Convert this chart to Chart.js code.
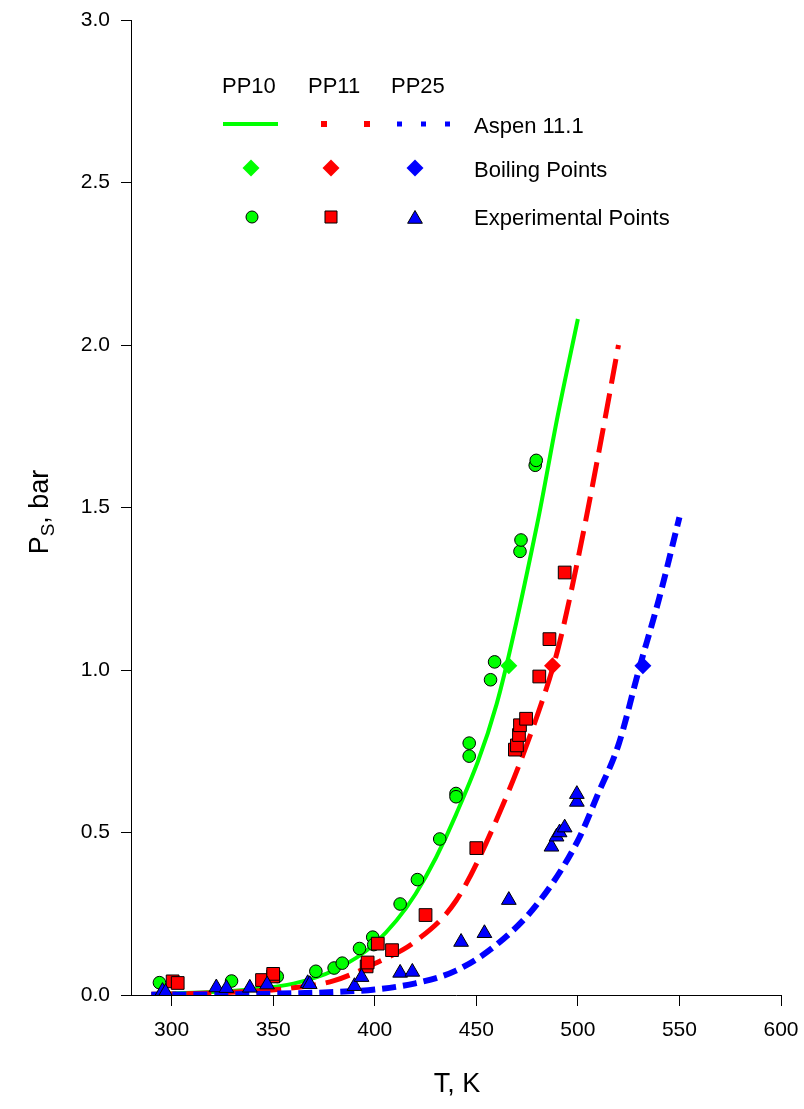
<!DOCTYPE html>
<html>
<head>
<meta charset="utf-8">
<title>Vapour pressure</title>
<script src="https://cdn.jsdelivr.net/npm/chart.js@4.4.1/dist/chart.umd.min.js"></script>
<style>
  html, body { margin: 0; padding: 0; background: #fff; }
</style>
</head>
<body>
<canvas id="ps-chart" width="804" height="1109"></canvas>
<script>
// Aspen 11.1 vapour pressure curves (T in K, P in bar)
var pp10T = [290, 300, 320, 340, 360, 380, 400, 420, 440, 460, 480, 490, 500];
var pp10P = [0.003, 0.005, 0.009, 0.018, 0.035, 0.076, 0.158, 0.31, 0.555, 0.895, 1.45, 1.78, 2.08];
var pp11T = [290, 300, 320, 340, 360, 380, 400, 420, 440, 460, 480, 490, 500, 510, 520];
var pp11P = [0.002, 0.003, 0.006, 0.012, 0.022, 0.044, 0.097, 0.165, 0.29, 0.54, 0.86, 1.06, 1.34, 1.66, 2.0];
var pp25T = [290, 320, 350, 380, 400, 420, 440, 460, 480, 500, 510, 520, 530, 540, 550];
var pp25P = [0.001, 0.002, 0.004, 0.009, 0.017, 0.036, 0.075, 0.155, 0.28, 0.475, 0.62, 0.77, 1.0, 1.22, 1.47];

// normal boiling points: PP10, PP11, PP25
var boilT = [466, 487.5, 532];
var boilP = [1.013, 1.013, 1.013];

// experimental points
var expPP10T = [294, 329.5, 352, 371, 380, 384, 392.5, 399, 399.5, 412.5, 421, 432, 440, 440, 446.5, 446.5, 457, 459, 471.5, 472, 479, 479.5];
var expPP10P = [0.038, 0.043, 0.057, 0.073, 0.083, 0.098, 0.143, 0.178, 0.155, 0.28, 0.355, 0.48, 0.62, 0.61, 0.775, 0.735, 0.97, 1.025, 1.365, 1.40, 1.63, 1.645];
var expPP11T = [300.5, 303, 344.5, 350, 350, 396, 396.5, 401.5, 408.5, 425, 450, 469, 470, 471, 471.5, 474.5, 481, 486, 493.5];
var expPP11P = [0.042, 0.037, 0.046, 0.057, 0.065, 0.088, 0.10, 0.158, 0.138, 0.246, 0.452, 0.755, 0.768, 0.80, 0.83, 0.85, 0.98, 1.095, 1.30];
var expPP25T = [295.5, 297, 322, 327, 338.5, 347, 367, 368, 390, 393.5, 412.5, 418.5, 442.5, 454, 466, 487, 489.5, 491, 493.5, 499.5, 499.5];
var expPP25P = [0.012, 0.008, 0.023, 0.021, 0.022, 0.032, 0.036, 0.033, 0.027, 0.055, 0.068, 0.071, 0.163, 0.19, 0.292, 0.456, 0.487, 0.50, 0.515, 0.594, 0.618];

var xTicks = [300, 350, 400, 450, 500, 550, 600];
var yTicks = [0, 0.5, 1.0, 1.5, 2.0, 2.5, 3.0];

var GREEN = '#00ff00', RED = '#ff0000', BLUE = '#0000ff';

function pts(xs, ys) {
    return xs.map(function(t, i) { return {x: t, y: ys[i]}; });
}

// legend + axis titles drawn by hand (SigmaPlot style)
var decorations = {
    id: 'decorations',
    afterDraw: function(chart) {
        var ctx = chart.ctx;
        var area = chart.chartArea;
        var draw = Chart.helpers.drawPoint;
        ctx.save();

        // x axis line runs a little past the y axis
        ctx.strokeStyle = '#000';
        ctx.lineWidth = 1;
        ctx.beginPath();
        ctx.moveTo(area.left - 8, Math.round(area.bottom) + 0.5);
        ctx.lineTo(area.left, Math.round(area.bottom) + 0.5);
        ctx.stroke();

        ctx.fillStyle = '#000';
        ctx.font = '22px Arial, "Liberation Sans", sans-serif';
        ctx.textBaseline = 'alphabetic';
        ctx.textAlign = 'left';
        ctx.fillText('PP10', 222, 93);
        ctx.fillText('PP11', 308, 93);
        ctx.fillText('PP25', 391, 93);
        ctx.fillText('Aspen 11.1', 474, 133);
        ctx.fillText('Boiling Points', 474, 177);
        ctx.fillText('Experimental Points', 474, 225);

        // line samples
        ctx.lineCap = 'butt';
        ctx.strokeStyle = GREEN;
        ctx.lineWidth = 4;
        ctx.beginPath(); ctx.moveTo(223, 124); ctx.lineTo(278, 124); ctx.stroke();
        ctx.strokeStyle = RED;
        ctx.lineWidth = 6;
        ctx.setLineDash([6, 37]);
        ctx.beginPath(); ctx.moveTo(321, 124); ctx.lineTo(371, 124); ctx.stroke();
        ctx.strokeStyle = BLUE;
        ctx.lineWidth = 5;
        ctx.setLineDash([5, 19]);
        ctx.beginPath(); ctx.moveTo(397, 124); ctx.lineTo(450, 124); ctx.stroke();
        ctx.setLineDash([]);

        // boiling point diamonds
        [[251, GREEN], [331, RED], [415, BLUE]].forEach(function(d) {
            ctx.fillStyle = d[1];
            ctx.strokeStyle = d[1];
            ctx.lineWidth = 0;
            draw(ctx, {pointStyle: 'rectRot', radius: 8.5, rotation: 0, borderWidth: 0}, d[0], 168);
        });

        // experimental markers
        ctx.strokeStyle = '#000';
        ctx.lineWidth = 1;
        ctx.fillStyle = GREEN;
        draw(ctx, {pointStyle: 'circle', radius: 6, rotation: 0, borderWidth: 1}, 252, 217);
        ctx.fillStyle = RED;
        draw(ctx, {pointStyle: 'rect', radius: 8.5, rotation: 0, borderWidth: 1}, 331, 217);
        ctx.fillStyle = BLUE;
        draw(ctx, {pointStyle: 'triangle', radius: 8.5, rotation: 0, borderWidth: 1}, 415, 219);

        // axis titles
        ctx.fillStyle = '#000';
        ctx.textAlign = 'center';
        ctx.textBaseline = 'middle';
        ctx.font = '27px Arial, "Liberation Sans", sans-serif';
        ctx.fillText('T, K', 457, 1085);

        ctx.translate(38, 512);
        ctx.rotate(-Math.PI / 2);
        ctx.textAlign = 'left';
        ctx.textBaseline = 'alphabetic';
        var big = '27px Arial, "Liberation Sans", sans-serif';
        var small = '19px Arial, "Liberation Sans", sans-serif';
        ctx.font = big;
        var wP = ctx.measureText('P').width;
        var wRest = ctx.measureText(', bar').width;
        ctx.font = small;
        var wS = ctx.measureText('S').width;
        var x0 = -(wP + wS + wRest) / 2;
        ctx.font = big;
        ctx.fillText('P', x0, 10);
        ctx.font = small;
        ctx.fillText('S', x0 + wP, 16);
        ctx.font = big;
        ctx.fillText(', bar', x0 + wP + wS, 10);
        ctx.restore();
    }
};

var tickFont = {family: 'Arial, "Liberation Sans", sans-serif', size: 21};

var ps_chart = new Chart(document.getElementById('ps-chart').getContext('2d'), {
    type: 'scatter',
    data: {
        datasets: [
            {
                label: 'PP25 exp',
                data: pts(expPP25T, expPP25P),
                pointStyle: 'triangle',
                pointRadius: 8.5,
                backgroundColor: BLUE,
                borderColor: '#000',
                borderWidth: 1
            },
            {
                label: 'PP11 exp',
                data: pts(expPP11T, expPP11P),
                pointStyle: 'rect',
                pointRadius: 9,
                backgroundColor: RED,
                borderColor: '#000',
                borderWidth: 1
            },
            {
                label: 'PP10 exp',
                data: pts(expPP10T, expPP10P),
                pointStyle: 'circle',
                pointRadius: 6.3,
                backgroundColor: GREEN,
                borderColor: '#000',
                borderWidth: 1
            },
            {
                label: 'Boiling Points',
                data: pts(boilT, boilP),
                pointStyle: 'rectRot',
                pointRadius: 8.5,
                backgroundColor: [GREEN, RED, BLUE],
                borderColor: [GREEN, RED, BLUE],
                borderWidth: 0
            },
            {
                label: 'PP25 Aspen',
                data: pts(pp25T, pp25P),
                showLine: true,
                pointRadius: 0,
                borderColor: BLUE,
                borderWidth: 6,
                borderDash: [14, 7],
                cubicInterpolationMode: 'monotone'
            },
            {
                label: 'PP11 Aspen',
                data: pts(pp11T, pp11P),
                showLine: true,
                pointRadius: 0,
                borderColor: RED,
                borderWidth: 5,
                borderDash: [25, 10],
                cubicInterpolationMode: 'monotone'
            },
            {
                label: 'PP10 Aspen',
                data: pts(pp10T, pp10P),
                showLine: true,
                pointRadius: 0,
                borderColor: GREEN,
                borderWidth: 4,
                cubicInterpolationMode: 'monotone'
            }
        ]
    },
    options: {
        responsive: false,
        animation: false,
        devicePixelRatio: 1,
        layout: {
            padding: {top: 20, right: 23, bottom: 0, left: 0}
        },
        plugins: {
            legend: {display: false},
            tooltip: {enabled: false}
        },
        scales: {
            x: {
                type: 'linear',
                min: 280,
                max: 600,
                afterBuildTicks: function(scale) {
                    scale.ticks = xTicks.map(function(v) { return {value: v}; });
                },
                afterFit: function(scale) {
                    scale.height = 114;
                    scale.paddingLeft = 0;
                    scale.paddingRight = 0;
                },
                grid: {display: true, drawOnChartArea: false, drawTicks: true, tickLength: 11, color: '#000', lineWidth: 1},
                border: {display: true, color: '#000', width: 1},
                ticks: {color: '#000', font: tickFont, padding: 12, maxRotation: 0}
            },
            y: {
                type: 'linear',
                min: 0,
                max: 3,
                afterBuildTicks: function(scale) {
                    scale.ticks = yTicks.map(function(v) { return {value: v}; });
                },
                afterFit: function(scale) {
                    scale.width = 131;
                    scale.paddingTop = 0;
                    scale.paddingBottom = 0;
                },
                grid: {display: true, drawOnChartArea: false, drawTicks: true, tickLength: 10, color: '#000', lineWidth: 1},
                border: {display: true, color: '#000', width: 1},
                ticks: {
                    color: '#000',
                    font: tickFont,
                    padding: 11,
                    callback: function(v) { return Number(v).toFixed(1); }
                }
            }
        }
    },
    plugins: [decorations]
}); // CHART
</script>
</body>
</html>
